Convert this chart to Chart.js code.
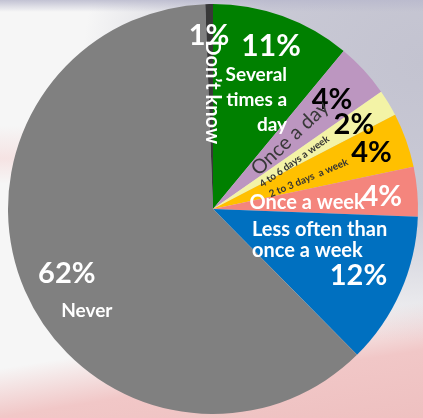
<!DOCTYPE html>
<html>
<head>
<meta charset="utf-8">
<script src="https://cdn.jsdelivr.net/npm/chart.js@4.4.1/dist/chart.umd.min.js"></script>
<style>
  html, body { margin: 0; padding: 0; }
  body {
    width: 423px;
    height: 418px;
    overflow: hidden;
    background:
      linear-gradient(to bottom, rgba(185,185,205,0.85) 0px, rgba(200,200,215,0) 12px),
      radial-gradient(ellipse 340px 280px at 100% 15%, #c3c3d0 0%, #c9c9d5 50%, rgba(225,225,232,0) 100%),
      linear-gradient(171deg, rgba(255,255,255,0) 76%, #f1c7c7 86%, #eec0c0 100%),
      linear-gradient(to bottom, rgba(255,255,255,0) 30%, rgba(245,215,215,0.6) 38%, rgba(255,255,255,0) 44%),
      #f6f6f6;
  }
  #wrap { position: relative; width: 423px; height: 418px; }
</style>
</head>
<body>
<div id="wrap"><canvas id="chart"></canvas></div>
<script>
// data (clockwise from 12 o'clock)
const categories = ['Several times a day', 'Once a day', '4 to 6 days a week', '2 to 3 days  a week',
    'Once a week', 'Less often than once a week', 'Never', "Don’t know"];
const shares = [11, 4.3, 2.1, 4.3, 3.9, 12, 61.8, 0.6];
const colours = ['#008000', '#bc96c0', '#f3f3a6', '#ffc000', '#f4857d', '#0070c0', '#808080', '#383838'];

// printed labels: text, angle from top (deg), distance as part of radius
const labels = [
    { text: ['1%'], ang: -1.3, r: 0.845, size: 29, bold: true, color: '#fff' },
    { text: ['Don’t know'], ang: -0.5, r: 0.57, size: 20, bold: true, color: '#fff', rot: 90 },
    { text: ['11%'], ang: 19.6, r: 0.844, size: 30, bold: true, color: '#fff' },
    { text: ['Several', 'times a', 'day'], ang: 34.2, r: 0.643, size: 19, bold: true, color: '#fff', align: 'right', lh: 25 },
    { text: ['4%'], ang: 47.3, r: 0.79, size: 29, bold: true, color: '#000' },
    { text: ['Once a day'], ang: 47.3, r: 0.51, size: 20, bold: false, color: '#383838', rot: -43.5 },
    { text: ['2%'], ang: 59.2, r: 0.80, size: 29, bold: true, color: '#000' },
    { text: ['4 to 6 days a week'], ang: 59.7, r: 0.46, size: 10, bold: true, color: '#333', rot: -35 },
    { text: ['2 to 3 days  a week'], ang: 72, r: 0.49, size: 10, bold: true, color: '#333', rot: -23 },
    { text: ['4%'], ang: 70.5, r: 0.82, size: 29, bold: true, color: '#000' },
    { text: ['Once a week'], ang: 86.3, r: 0.46, size: 20, bold: true, color: '#fff' },
    { text: ['4%'], ang: 85.9, r: 0.825, size: 29, bold: true, color: '#fff' },
    { text: ['Less often than', 'once a week'], ang: 128.5, r: 0.243, size: 20, bold: true, color: '#fff', align: 'left', lh: 21 },
    { text: ['12%'], ang: 114.5, r: 0.78, size: 29, bold: true, color: '#fff' },
    { text: ['62%'], ang: 246.1, r: 0.78, size: 29, bold: true, color: '#fff' },
    { text: ['Never'], ang: 231.2, r: 0.79, size: 19, bold: true, color: '#fff' }
];

// draws the text that sits on the slices
const sliceText = {
    id: 'sliceText',
    afterDatasetsDraw(chart) {
        const arc = chart.getDatasetMeta(0).data[0];
        const cx = arc.x, cy = arc.y, R = arc.outerRadius;
        const ctx = chart.ctx;
        labels.forEach(l => {
            const a = l.ang * Math.PI / 180;
            const x = cx + R * l.r * Math.sin(a);
            const y = cy - R * l.r * Math.cos(a);
            ctx.save();
            ctx.translate(x, y);
            if (l.rot) ctx.rotate(l.rot * Math.PI / 180);
            ctx.font = (l.bold ? 'bold ' : '') + l.size + 'px Lato, "Open Sans", sans-serif';
            ctx.fillStyle = l.color;
            ctx.textAlign = l.align || 'center';
            ctx.textBaseline = 'middle';
            const lh = l.lh || l.size;
            const top = -(l.text.length - 1) * lh / 2;
            l.text.forEach((t, i) => ctx.fillText(t, 0, top + i * lh));
            ctx.restore();
        });
    }
};

new Chart(document.querySelector('#chart'), {
    type: 'pie',
    data: {
        labels: categories,
        datasets: [{
            data: shares,
            backgroundColor: colours,
            borderWidth: 0
        }]
    },
    options: {
        responsive: true,
        maintainAspectRatio: false,
        animation: false,
        layout: { padding: { top: 4, bottom: 4, left: 3, right: 0 } },
        plugins: {
            legend: { display: false },
            tooltip: { enabled: false }
        }
    },
    plugins: [sliceText]
});
</script>
</body>
</html>
